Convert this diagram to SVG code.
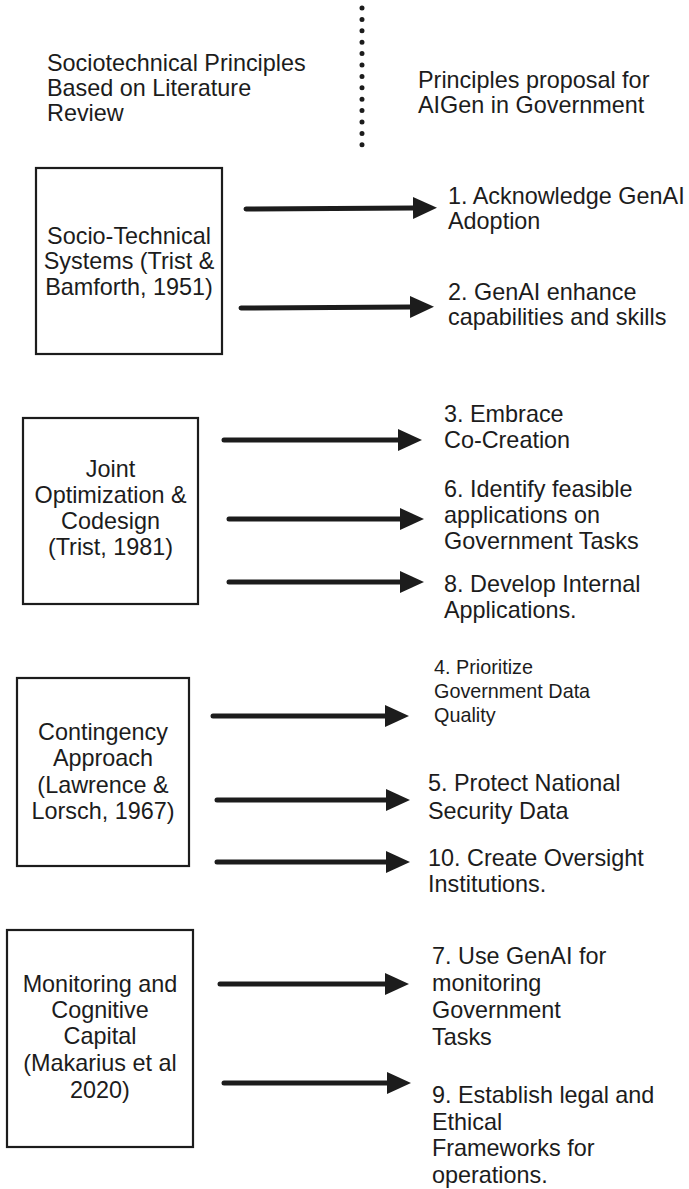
<svg xmlns="http://www.w3.org/2000/svg" width="689" height="1189" viewBox="0 0 689 1189">
<defs>
<style>
text{font-family:"Liberation Sans",Arial,Helvetica,sans-serif;font-size:23.4px;fill:#1c1c1c}
.c{text-anchor:middle}
.s{font-size:19.8px}
.box{fill:#fff;stroke:#1c1c1c;stroke-width:2.2}
.arr{stroke:#1c1c1c;stroke-width:5;stroke-linecap:round;fill:none;marker-end:url(#ah)}
</style>
<marker id="ah" markerWidth="24" markerHeight="22" refX="0" refY="11" orient="auto" markerUnits="userSpaceOnUse"><path d="M0,0 L24,11 L0,22 Z" fill="#1c1c1c"/></marker>
</defs>
<rect width="689" height="1189" fill="#fff"/>
<g id="header">
<text x="47" y="71">Sociotechnical Principles</text>
<text x="47" y="96">Based on Literature</text>
<text x="47" y="121">Review</text>
<text x="418" y="88">Principles proposal for</text>
<text x="418" y="113">AIGen in Government</text>
<line x1="362" y1="8" x2="362" y2="146" stroke="#1c1c1c" stroke-width="5" stroke-linecap="round" stroke-dasharray="0 11.4"/>
</g>
<g id="node-sts">
<rect class="box" x="36" y="168" width="186" height="186"/>
<text class="c" x="129" y="244">Socio-Technical</text>
<text class="c" x="129" y="269">Systems (Trist &amp;</text>
<text class="c" x="129" y="295">Bamforth, 1951)</text>
</g>
<g id="node-joint">
<rect class="box" x="23" y="418" width="175" height="186"/>
<text class="c" x="110.5" y="477">Joint</text>
<text class="c" x="110.5" y="503">Optimization &amp;</text>
<text class="c" x="110.5" y="529">Codesign</text>
<text class="c" x="110.5" y="555">(Trist, 1981)</text>
</g>
<g id="node-contingency">
<rect class="box" x="17" y="678" width="172" height="188"/>
<text class="c" x="103" y="740">Contingency</text>
<text class="c" x="103" y="766">Approach</text>
<text class="c" x="103" y="793">(Lawrence &amp;</text>
<text class="c" x="103" y="819">Lorsch, 1967)</text>
</g>
<g id="node-monitoring">
<rect class="box" x="7" y="930" width="186" height="217"/>
<text class="c" x="100" y="992">Monitoring and</text>
<text class="c" x="100" y="1018">Cognitive</text>
<text class="c" x="100" y="1044">Capital</text>
<text class="c" x="100" y="1071">(Makarius et al</text>
<text class="c" x="100" y="1098">2020)</text>
</g>
<g id="p1"><text x="448" y="204">1. Acknowledge GenAI</text><text x="448" y="229">Adoption</text></g>
<g id="p2"><text x="448" y="300">2. GenAI enhance</text><text x="448" y="325">capabilities and skills</text></g>
<g id="p3"><text x="444" y="422">3. Embrace</text><text x="444" y="448">Co-Creation</text></g>
<g id="p6"><text x="444" y="497">6. Identify feasible</text><text x="444" y="523">applications on</text><text x="444" y="549">Government Tasks</text></g>
<g id="p8"><text x="444" y="592">8. Develop Internal</text><text x="444" y="618">Applications.</text></g>
<g id="p4"><text class="s" x="434" y="674">4. Prioritize</text><text class="s" x="434" y="698">Government Data</text><text class="s" x="434" y="722">Quality</text></g>
<g id="p5"><text x="428" y="791">5. Protect National</text><text x="428" y="819">Security Data</text></g>
<g id="p10"><text x="428" y="866">10. Create Oversight</text><text x="428" y="892">Institutions.</text></g>
<g id="p7"><text x="432" y="964">7. Use GenAI for</text><text x="432" y="991">monitoring</text><text x="432" y="1018">Government</text><text x="432" y="1045">Tasks</text></g>
<g id="p9"><text x="432" y="1103">9. Establish legal and</text><text x="432" y="1130">Ethical</text><text x="432" y="1156">Frameworks for</text><text x="432" y="1183">operations.</text></g>
<g id="connectors">
<line class="arr" x1="246" y1="209" x2="413" y2="208"/>
<line class="arr" x1="241" y1="308" x2="410" y2="307"/>
<line class="arr" x1="224" y1="440" x2="398" y2="440"/>
<line class="arr" x1="229" y1="519" x2="400" y2="519"/>
<line class="arr" x1="229" y1="582" x2="400" y2="582"/>
<line class="arr" x1="213" y1="716" x2="385" y2="716"/>
<line class="arr" x1="217" y1="800" x2="386" y2="800"/>
<line class="arr" x1="217" y1="862" x2="386" y2="862"/>
<line class="arr" x1="220" y1="984" x2="385" y2="984"/>
<line class="arr" x1="224" y1="1083" x2="387" y2="1083"/>
</g>
</svg>
